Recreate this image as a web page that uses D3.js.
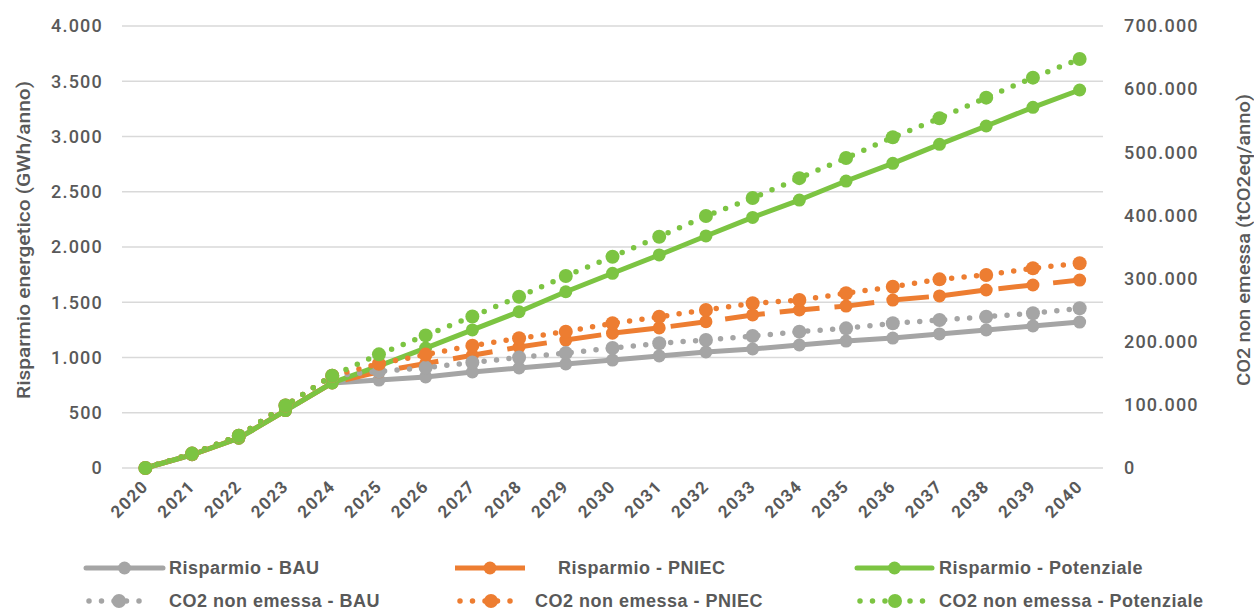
<!DOCTYPE html>
<html>
<head>
<meta charset="utf-8">
<script src="https://cdn.jsdelivr.net/npm/d3@7"></script>
<style>
  body { margin: 0; background: #fff; }
  svg { display: block; }
</style>
</head>
<body>
<svg id="chart" width="1254" height="612"></svg>
<script>
// Years on the category axis
const years = ["2020","2021","2022","2023","2024","2025","2026","2027","2028","2029","2030",
               "2031","2032","2033","2034","2035","2036","2037","2038","2039","2040"];

// Energy savings (GWh/anno) – left axis
const risparmioBAU        = [0,120,270,520,770,796,824,869,905,941,977,1014,1050,1077,1113,1149,1176,1213,1249,1285,1321];
const risparmioPNIEC      = [0,120,270,520,770,870,945,1020,1095,1158,1220,1268,1324,1385,1430,1465,1520,1557,1611,1656,1701];
const risparmioPotenziale = [0,120,270,520,770,925,1085,1250,1414,1595,1762,1928,2100,2268,2425,2597,2757,2929,3095,3264,3421];

// Avoided CO2 (tCO2eq/anno) – right axis
const co2BAU        = [0,22800,51000,99000,146000,153000,159000,167000,175000,182000,190000,197500,202700,209000,215900,221200,229200,234400,239600,245000,252900];
const co2PNIEC      = [0,22800,51000,99000,146000,165000,179600,193800,205400,215900,229200,239600,250200,260800,266000,276700,287100,298800,305700,316300,324200];
const co2Potenziale = [0,22800,51000,99000,146000,180000,210000,240000,271300,304100,334600,366300,399100,427600,459000,491000,523700,553800,586500,618200,647700];

// Axis ticks
const leftTicks  = [0,500,1000,1500,2000,2500,3000,3500,4000];
const rightTicks = [0,100000,200000,300000,400000,500000,600000,700000];

// Series labels
const labelRispBAU = "Risparmio - BAU";
const labelRispPNIEC = "Risparmio - PNIEC";
const labelRispPot = "Risparmio - Potenziale";
const labelCo2BAU = "CO2 non emessa - BAU";
const labelCo2PNIEC = "CO2 non emessa - PNIEC";
const labelCo2Pot = "CO2 non emessa - Potenziale";

const GREY = "#A5A5A5", ORANGE = "#ED7D31", GREEN = "#7CC442", TEXT = "#595959";

const series = [
  { name: labelRispBAU,   values: risparmioBAU,        axis: "left",  color: GREY,   style: "solid" },
  { name: labelRispPNIEC, values: risparmioPNIEC,      axis: "left",  color: ORANGE, style: "dash"  },
  { name: labelRispPot,   values: risparmioPotenziale, axis: "left",  color: GREEN,  style: "solid" },
  { name: labelCo2BAU,    values: co2BAU,              axis: "right", color: GREY,   style: "dot"   },
  { name: labelCo2PNIEC,  values: co2PNIEC,            axis: "right", color: ORANGE, style: "dot"   },
  { name: labelCo2Pot,    values: co2Potenziale,       axis: "right", color: GREEN,  style: "dot"   }
];

const svg = d3.select("#chart");
const itFmt = d3.formatLocale({ decimal: ",", thousands: ".", grouping: [3], currency: ["€", ""] }).format(",d");

const plot = { left: 122, right: 1103, top: 26, bottom: 468 };

const x = d3.scaleBand().domain(years).range([plot.left, plot.right]);
const xc = d => x(d) + x.bandwidth() / 2;
const yL = d3.scaleLinear().domain([0, 4000]).range([plot.bottom, plot.top]);
const yR = d3.scaleLinear().domain([0, 700000]).range([plot.bottom, plot.top]);

const numFont = "Roboto, 'Liberation Sans', Arial, sans-serif";

// Horizontal gridlines from the primary axis
svg.append("g")
  .selectAll("line")
  .data(leftTicks)
  .join("line")
  .attr("x1", plot.left).attr("x2", plot.right)
  .attr("y1", d => yL(d)).attr("y2", d => yL(d))
  .attr("stroke", "#D9D9D9").attr("stroke-width", 1.5);

// Left axis
const gL = svg.append("g")
  .attr("transform", `translate(${plot.left},0)`)
  .call(d3.axisLeft(yL).tickValues(leftTicks).tickFormat(itFmt).tickSize(0).tickPadding(19));
gL.select(".domain").remove();
gL.selectAll("text")
  .attr("fill", TEXT)
  .style("font-family", numFont)
  .style("font-weight", 500)
  .style("font-size", "18px")
  .style("letter-spacing", "1.2px");

// Right axis
const gR = svg.append("g")
  .attr("transform", `translate(${plot.right},0)`)
  .call(d3.axisRight(yR).tickValues(rightTicks).tickFormat(itFmt).tickSize(0).tickPadding(21));
gR.select(".domain").remove();
gR.selectAll("text")
  .attr("fill", TEXT)
  .style("font-family", numFont)
  .style("font-weight", 500)
  .style("font-size", "18px")
  .style("letter-spacing", "1.2px");

// Category axis labels, rotated
const gX = svg.append("g")
  .attr("transform", `translate(0,${plot.bottom})`)
  .call(d3.axisBottom(x).tickSize(0).tickPadding(0));
gX.select(".domain").remove();
gX.selectAll("text")
  .attr("fill", TEXT)
  .style("font-family", numFont)
  .style("font-weight", 700)
  .style("font-size", "17px")
  .style("letter-spacing", "1.5px")
  .attr("text-anchor", "end")
  .attr("y", null)
  .attr("transform", "translate(0,15) rotate(-45)")
  .attr("dy", "0.35em");

// Axis titles
svg.append("text")
  .attr("transform", "translate(23,240) rotate(-90)")
  .attr("text-anchor", "middle").attr("dominant-baseline", "central")
  .attr("fill", TEXT)
  .style("font-family", numFont)
  .style("font-weight", 500)
  .style("font-size", "18px")
  .attr("textLength", 318).attr("lengthAdjust", "spacingAndGlyphs")
  .text("Risparmio energetico (GWh/anno)");

svg.append("text")
  .attr("transform", "translate(1243,240) rotate(-90)")
  .attr("text-anchor", "middle").attr("dominant-baseline", "central")
  .attr("fill", TEXT)
  .style("font-family", numFont)
  .style("font-weight", 500)
  .style("font-size", "18px")
  .attr("textLength", 292).attr("lengthAdjust", "spacingAndGlyphs")
  .text("CO2 non emessa (tCO2eq/anno)");

// Line styles
function styleLine(sel, s, legend) {
  sel.attr("fill", "none").attr("stroke", s.color);
  if (s.style === "solid") {
    sel.attr("stroke-width", 5).attr("stroke-linejoin", "round").attr("stroke-linecap", "round");
  } else if (s.style === "dash") {
    sel.attr("stroke-width", 5).attr("stroke-dasharray", legend ? "70,20" : "40,15").attr("stroke-linecap", "butt");
  } else {
    sel.attr("stroke-width", 5.5).attr("stroke-dasharray", "0,12.5").attr("stroke-linecap", "round");
  }
}
const markerR = s => (s.style === "dot" ? 7 : 6.5);

// Draw each series: line then markers
series.forEach(s => {
  const yS = s.axis === "left" ? yL : yR;
  const line = d3.line().x((d, i) => xc(years[i])).y(d => yS(d));
  const g = svg.append("g");
  g.append("path").datum(s.values).attr("d", line).call(styleLine, s, false);
  g.selectAll("circle")
    .data(s.values)
    .join("circle")
    .attr("cx", (d, i) => xc(years[i]))
    .attr("cy", d => yS(d))
    .attr("r", markerR(s))
    .attr("fill", s.color);
});

// Legend layout: sample start/length and label start, per row
const legendCols = [
  { x0: [86, 89],   len: [77, 60], textX: [169, 169] },
  { x0: [455, 460], len: [70, 62], textX: [558, 535] },
  { x0: [857, 860], len: [75, 70], textX: [939, 939] }
];
const legendRows = [568, 601];

series.forEach((s, i) => {
  const col = legendCols[i % 3];
  const row = Math.floor(i / 3);
  const y = legendRows[row];
  const x0 = col.x0[row], len = col.len[row];
  const g = svg.append("g");
  g.append("path")
    .attr("d", d3.line()([[x0, y], [x0 + len, y]]))
    .call(styleLine, s, true);
  g.append("circle")
    .attr("cx", x0 + len / 2).attr("cy", y)
    .attr("r", markerR(s)).attr("fill", s.color);
  g.append("text")
    .attr("x", col.textX[row]).attr("y", y)
    .attr("dominant-baseline", "central")
    .attr("fill", TEXT)
    .style("font-family", "'Liberation Sans', Arial, sans-serif")
    .style("font-weight", 700)
    .style("font-size", "18px")
    .style("letter-spacing", "0.5px")
    .text(s.name);
});
</script>
</body>
</html>
